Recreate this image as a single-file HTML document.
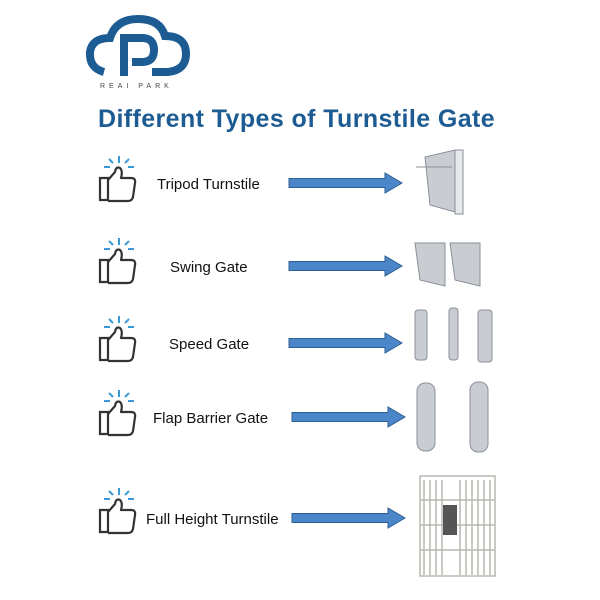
<!DOCTYPE html>
<html><head><style>
body{margin:0;width:600px;height:600px;background:#fff;position:relative;overflow:hidden;font-family:"Liberation Sans",sans-serif}
.t{position:absolute;font-size:15px;color:#111}
svg{position:absolute;left:0;top:0}
</style></head><body>
<svg width="600" height="600">
<defs>
<g id="thumb">
<path d="M0 10 h8 v22 h-8 z" fill="none" stroke="#333" stroke-width="2.2"/>
<path d="M8 12 L15 4 Q16 -2 20 0 Q23 3 21 10 h10 q5 0 4 5 l-2 14 q-1 4 -5 4 h-20" fill="none" stroke="#333" stroke-width="2.2" stroke-linejoin="round"/>
<g stroke="#3a9ad6" stroke-width="2">
<line x1="19" y1="-12" x2="19" y2="-5"/><line x1="9" y1="-9" x2="13" y2="-5"/><line x1="29" y1="-9" x2="25" y2="-5"/>
<line x1="4" y1="-1" x2="10" y2="-1"/><line x1="28" y1="-1" x2="34" y2="-1"/></g>
</g>
<g id="arr"><path d="M0 -4.5 H96 V-10 L113 0 L96 10 V4.5 H0 Z" fill="#4a86c8" stroke="#2e5e95" stroke-width="1"/></g>
</defs>
<!-- logo -->
<path d="M104 72 Q89 68 90 52 Q92 38 110 38 Q116 19 138 19 Q160 19 165 36 Q186 36 186 54 Q186 70 168 72 H152" fill="none" stroke="#1d5b93" stroke-width="8"/>
<path d="M124 76 V38 H142 Q154 38 154 50 Q154 62 142 62 H132" fill="none" stroke="#1d5b93" stroke-width="8"/>
<text x="100" y="88" font-size="7" letter-spacing="4" fill="#444">REAI PARK</text>
<text x="98" y="127" font-size="25" font-weight="bold" fill="#1d5b93" letter-spacing="0.4" font-family="Liberation Sans">Different Types of Turnstile Gate</text>
<use href="#thumb" x="100" y="168"/>
<use href="#thumb" x="100" y="250"/>
<use href="#thumb" x="100" y="328"/>
<use href="#thumb" x="100" y="402"/>
<use href="#thumb" x="100" y="500"/>
<use href="#arr" x="289" y="183"/>
<use href="#arr" x="289" y="266"/>
<use href="#arr" x="289" y="343"/>
<use href="#arr" x="292" y="417"/>
<use href="#arr" x="292" y="518"/>
<!-- gates -->
<g fill="#c9cdd2" stroke="#8a9098">
<path d="M425 157 L455 150 L462 158 V214 L430 205 Z"/>
<rect x="455" y="150" width="8" height="64" fill="#e6e8eb"/>
<line x1="416" y1="167" x2="452" y2="167"/>
<path d="M415 243 H445 V286 L420 280 Z"/>
<path d="M450 243 H480 V286 L455 280 Z"/>
<rect x="415" y="310" width="12" height="50" rx="3"/>
<rect x="449" y="308" width="9" height="52" rx="3"/>
<rect x="478" y="310" width="14" height="52" rx="3"/>
<rect x="417" y="383" width="18" height="68" rx="8"/>
<rect x="470" y="382" width="18" height="70" rx="8"/>
</g>
<g fill="none" stroke="#b8b8b0" stroke-width="1.5">
<rect x="420" y="476" width="75" height="100"/>
<path d="M424 480 V575 M430 480 V575 M436 480 V575 M442 480 V575 M460 480 V575 M466 480 V575 M472 480 V575 M478 480 V575 M484 480 V575 M490 480 V575"/>
<path d="M420 500 H495 M420 525 H495 M420 550 H495"/>
</g>
<rect x="443" y="505" width="14" height="30" fill="#555"/>
</svg>
<div class="t" style="left:157px;top:176px">Tripod Turnstile</div>
<div class="t" style="left:170px;top:259px">Swing Gate</div>
<div class="t" style="left:169px;top:336px">Speed Gate</div>
<div class="t" style="left:153px;top:410px">Flap Barrier Gate</div>
<div class="t" style="left:146px;top:511px">Full Height Turnstile</div>
</body></html>
